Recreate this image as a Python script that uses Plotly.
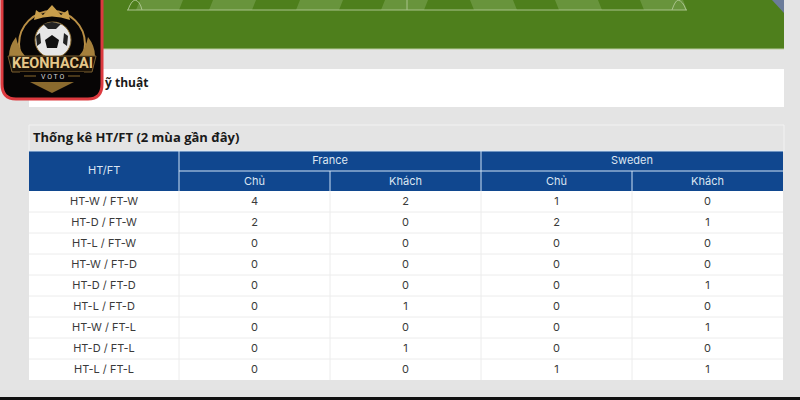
import plotly.graph_objects as go

# donnees du tableau HT/FT
ROW_LABELS = ["HT-W / FT-W", "HT-D / FT-W", "HT-L / FT-W", "HT-W / FT-D", "HT-D / FT-D",
              "HT-L / FT-D", "HT-W / FT-L", "HT-D / FT-L", "HT-L / FT-L"]
FRANCE_HOME = [4, 2, 0, 0, 0, 0, 0, 0, 0]
FRANCE_AWAY = [2, 0, 0, 0, 0, 1, 0, 1, 0]
SWEDEN_HOME = [1, 2, 0, 0, 0, 0, 0, 0, 1]
SWEDEN_AWAY = [0, 1, 0, 0, 1, 0, 1, 0, 1]
TEAMS = ["France", "Sweden"]
SUB_HEADERS = ["Chủ", "Khách", "Chủ", "Khách"]

BLUE = "#10478f"
HEAD_LINE = "#cfe3f5"
GRID = "#ececec"
LINE_PITCH = "#a9c38b"
GOLD = "#b98f45"
W, H = 800, 400
COLS = [29, 179, 330, 481, 632, 783]
ROW_TOP = 191
ROW_H = 21


def dom(x0, x1, y0, y1):
    return dict(x=[x0 / W, x1 / W], y=[1 - y1 / H, 1 - y0 / H])


def rect(x0, x1, y0, y1, color, line=None):
    return dict(type="rect", x0=x0, x1=x1, y0=y0, y1=y1, fillcolor=color,
                line=line or dict(width=0))


def seg(x0, x1, y0, y1, color, width=1):
    return dict(type="line", x0=x0, x1=x1, y0=y0, y1=y1, line=dict(color=color, width=width))


def path(d, color=None, line=None):
    s = dict(type="path", path=d, line=line or dict(width=0))
    if color:
        s["fillcolor"] = color
    return s


def head_table(values, domain):
    # tableau transparent : seul le texte vient de la trace, le fond est dans les shapes
    return go.Table(
        domain=domain,
        header=dict(values=[[v] for v in values], height=20, align="center",
                    fill_color="rgba(0,0,0,0)", line=dict(width=0),
                    font=dict(family="Inter", size=11, color="#dce6f2")),
    )


fig = go.Figure()
fig.add_trace(go.Scatter(x=[], y=[], hoverinfo="skip"))

# fond de page, terrain et bandes
shapes = [
    rect(0, 800, 397, 400, "#111111"),
    rect(100, 784, 0, 49, "#4e7f1c"),
    seg(100, 784, 49, 49, "#b9cc9c"),
    path("M 772 0 L 784 0 L 784 13 Z", "#6b7c9a"),
    rect(29, 784, 69, 107, "#ffffff"),
    rect(29, 784, 125, 151, "#e4e4e4", dict(color="#f2f2f2", width=1)),
]
for x0 in [140, 213, 300, 385, 470, 555, 640]:
    x1 = x0 + 43
    slant = 4 if x0 < 400 else -4
    shapes.append(path(f"M {x0 - slant} 10 L {x1 - slant} 10 L {x1} 0 L {x0} 0 Z", "#68943c"))
shapes += [
    seg(127, 687, 10, 10, LINE_PITCH),
    seg(407, 407, 0, 10, LINE_PITCH),
    path("M 128 10 Q 131 1 135 0 Q 140 1 142 10", line=dict(color=LINE_PITCH, width=1)),
    path("M 672 10 Q 675 1 678 0 Q 683 1 686 10", line=dict(color=LINE_PITCH, width=1)),
]

# logo
shapes += [
    path("M 2 -3 L 102 -3 L 102 84 Q 102 99 88 99 L 16 99 Q 2 99 2 84 Z", "#070505",
         dict(color="#dc3a3f", width=3)),
    dict(type="circle", x0=19, x1=85, y0=11, y1=77, line=dict(color=GOLD, width=2)),
    path("M 34 20 L 36 10 L 43 15 L 52 5 L 61 15 L 68 10 L 70 20 Q 52 13 34 20 Z", "#c99f4c"),
    dict(type="circle", x0=35, x1=71, y0=22, y1=58, fillcolor="#e6e6e6",
         line=dict(color="#8a6a2e", width=1)),
    path("M 52 35 L 59 40 L 57 48 L 47 48 L 45 40 Z", "#111111"),
    path("M 43 24 L 52 22 L 61 24 L 56 29 L 48 29 Z", "#222222"),
    path("M 36 36 L 40 33 L 41 43 L 37 46 Z", "#222222"),
    path("M 68 36 L 64 33 L 63 43 L 67 46 Z", "#222222"),
    path("M 9 56 Q 9 46 16 37 Q 18 48 25 56 Z", "#a5803c"),
    path("M 95 56 Q 95 46 88 37 Q 86 48 79 56 Z", "#a5803c"),
    path("M 8 56 L 96 56 L 92 72 L 12 72 Z", "#1d1408", dict(color="#7d6030", width=1)),
    rect(20, 84, 72, 81, "#070505"),
    seg(24, 36, 76, 76, "#8a6a2e"),
    seg(68, 80, 76, 76, "#8a6a2e"),
    path("M 30 82 L 74 82 L 52 93 Z", "#8a6a2e"),
]

# entete et lignes du tableau
shapes.append(rect(COLS[0], COLS[-1], 151, 191, BLUE))
shapes.append(seg(COLS[1], COLS[-1], 171, 171, HEAD_LINE))
shapes.append(seg(COLS[0], COLS[-1], 151, 151, HEAD_LINE))
for x in [COLS[1], COLS[3]]:
    shapes.append(seg(x, x, 151, 191, HEAD_LINE))
for x in [COLS[2], COLS[4]]:
    shapes.append(seg(x, x, 171, 191, HEAD_LINE))

body_bottom = ROW_TOP + ROW_H * len(ROW_LABELS)
shapes.append(rect(COLS[0], COLS[-1], ROW_TOP, body_bottom, "#ffffff"))
for i in range(1, len(ROW_LABELS)):
    y = ROW_TOP + ROW_H * i
    shapes.append(seg(COLS[0], COLS[-1], y, y, GRID))
for x in COLS[1:-1]:
    shapes.append(seg(x, x, ROW_TOP, body_bottom, GRID))
for s in shapes:
    s["layer"] = "below"

# textes
fig.add_trace(head_table(TEAMS, dom(COLS[1], COLS[-1], 148, 168)))
fig.add_trace(head_table(SUB_HEADERS, dom(COLS[1], COLS[-1], 169, 189)))
fig.add_trace(go.Table(
    domain=dom(COLS[0], COLS[-1], ROW_TOP - 3, body_bottom - 3),
    columnwidth=[150, 151, 151, 151, 151],
    header=dict(values=[[""]] * 5, height=1, line=dict(width=0), fill_color="rgba(0,0,0,0)"),
    cells=dict(values=[ROW_LABELS, FRANCE_HOME, FRANCE_AWAY, SWEDEN_HOME, SWEDEN_AWAY],
               height=ROW_H, align="center", fill_color="rgba(0,0,0,0)",
               line=dict(width=0),
               font=dict(family="Inter", size=11, color="#3a3a3a")),
))

annotations = [
    dict(x=104, y=170, text="HT/FT", showarrow=False,
         font=dict(family="Inter", size=11, color="#dce6f2")),
    dict(x=31, y=137, text="<b>Thống kê HT/FT (2 mùa gần đây)</b>", xanchor="left", showarrow=False,
         font=dict(family="Open Sans", size=13, color="#1a1a1a")),
    dict(x=103, y=82, text="<b>ỹ thuật</b>", xanchor="left", showarrow=False,
         font=dict(family="Open Sans", size=12, color="#1a1a1a")),
    dict(x=52, y=63.5, text="<b>KEONHACAI</b>", showarrow=False,
         font=dict(family="Roboto", size=14.5, color="#e6c88a")),
    dict(x=52, y=76.5, text="V O T O", showarrow=False,
         font=dict(family="Roboto", size=7, color="#d8d8d8")),
]
for a in annotations:
    a["xref"] = "x"
    a["yref"] = "y"

fig.update_layout(
    width=W, height=H, margin=dict(l=0, r=0, t=0, b=0),
    paper_bgcolor="#e4e4e4", plot_bgcolor="rgba(0,0,0,0)", showlegend=False,
    xaxis=dict(range=[0, W], visible=False, fixedrange=True),
    yaxis=dict(range=[H, 0], visible=False, fixedrange=True),
    shapes=shapes, annotations=annotations,
)

fig.write_html("out.html", config={"displayModeBar": False},
               post_script="document.body.style.margin='0';")
